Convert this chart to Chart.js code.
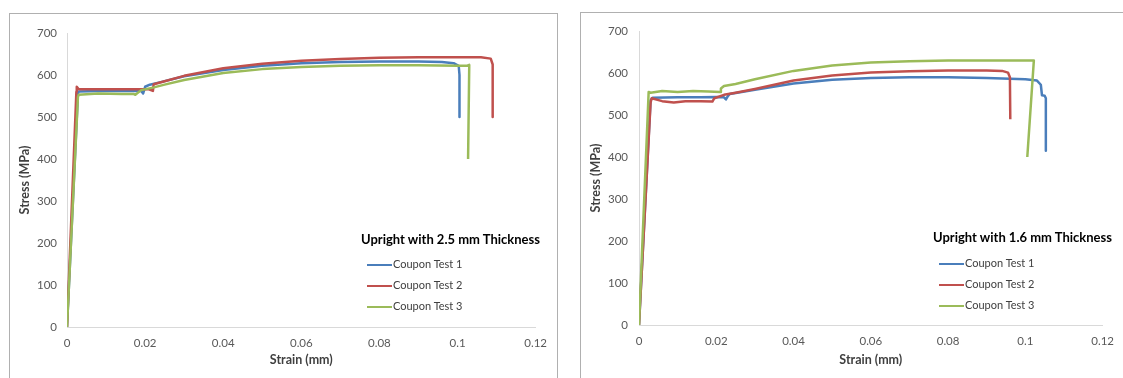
<!DOCTYPE html>
<html>
<head>
<meta charset="utf-8">
<script src="https://cdn.jsdelivr.net/npm/chart.js@4.4.1/dist/chart.umd.min.js"></script>
<style>
  body { margin: 0; background: #fff; width: 1123px; height: 378px; overflow: hidden; position: relative; font-family: Lato, "Liberation Sans", sans-serif; }
  .frame { position: absolute; border: 1px solid #b0b0b0; border-bottom: none; }
  #frame1 { left: 9px; top: 13px; width: 547px; height: 380px; }
  #frame2 { left: 580px; top: 12px; width: 560px; height: 380px; }
  canvas { position: absolute; }
  #chart1 { left: 10px; top: 14px; }
  #chart2 { left: 581px; top: 12px; }
  .legend { position: absolute; color: #404040; font-size: 11px; }
  .legend .ttl { font-weight: bold; color: #000; font-size: 13px; line-height: 16px; height: 16px; white-space: nowrap; }
  .legend .row { height: 21px; line-height: 21px; padding-left: 6px; white-space: nowrap; }
  .legend .sw { display: inline-block; width: 25px; height: 0; vertical-align: middle; margin-right: 1px; }
</style>
</head>
<body>
<div class="frame" id="frame1"></div>
<div class="frame" id="frame2"></div>
<canvas id="chart1" width="546" height="364"></canvas>
<canvas id="chart2" width="542" height="366"></canvas>
<div class="legend" id="legend1" style="left:361px; top:231px;"></div>
<div class="legend" id="legend2" style="left:933px; top:229px;"></div>
<script>
const seriesNames = ['Coupon Test 1', 'Coupon Test 2', 'Coupon Test 3'];
const seriesColors = ['#4a7ebb', '#c0504d', '#9bbb59'];
const xTickValues = [0, 0.02, 0.04, 0.06, 0.08, 0.1, 0.12];
const xTickLabels = ['0', '0.02', '0.04', '0.06', '0.08', '0.1', '0.12'];
const yTickValues = [0, 100, 200, 300, 400, 500, 600, 700];

// 2.5 mm thickness
const strain25t1 = [0, 0.0028, 0.003, 0.008, 0.015, 0.019, 0.0195, 0.020, 0.0212, 0.024, 0.03, 0.04, 0.05, 0.06, 0.07, 0.08, 0.09, 0.096, 0.099, 0.1003, 0.1005, 0.1005];
const stress25t1 = [0, 555, 561, 562, 562, 562, 556, 572, 577, 583, 597, 612, 622, 628, 631, 632, 632, 631, 628, 622, 600, 500];
const strain25t2 = [0, 0.0024, 0.0025, 0.003, 0.01, 0.018, 0.021, 0.022, 0.0222, 0.025, 0.03, 0.04, 0.05, 0.06, 0.07, 0.08, 0.09, 0.1, 0.106, 0.1085, 0.109, 0.109];
const stress25t2 = [0, 560, 572, 566, 566, 566, 566, 562, 578, 585, 598, 616, 627, 634, 638, 641, 642, 642, 642, 639, 625, 500];
const strain25t3 = [0, 0.0028, 0.003, 0.008, 0.014, 0.017, 0.0175, 0.019, 0.022, 0.025, 0.03, 0.04, 0.05, 0.06, 0.07, 0.08, 0.09, 0.1, 0.1025, 0.103, 0.1027];
const stress25t3 = [0, 548, 553, 556, 555, 555, 553, 564, 570, 577, 588, 605, 614, 619, 622, 623, 623, 622, 622, 624, 400];

// 1.6 mm thickness
const strain16t1 = [0, 0.003, 0.0035, 0.01, 0.016, 0.02, 0.022, 0.0225, 0.023, 0.0235, 0.03, 0.04, 0.05, 0.06, 0.07, 0.08, 0.09, 0.1, 0.103, 0.104, 0.1043, 0.105, 0.1053, 0.1053];
const stress16t1 = [0, 535, 541, 542, 542, 543, 542, 537, 545, 550, 560, 575, 584, 588, 590, 590, 588, 585, 582, 572, 547, 546, 540, 415];
const strain16t2 = [0, 0.003, 0.0033, 0.006, 0.009, 0.012, 0.016, 0.019, 0.0195, 0.022, 0.025, 0.03, 0.04, 0.05, 0.06, 0.07, 0.08, 0.09, 0.094, 0.0955, 0.096, 0.0961];
const stress16t2 = [0, 530, 540, 533, 530, 533, 533, 532, 540, 548, 553, 562, 582, 594, 601, 604, 606, 606, 605, 601, 590, 490];
const strain16t3 = [0, 0.0025, 0.003, 0.006, 0.01, 0.014, 0.018, 0.021, 0.0212, 0.022, 0.025, 0.03, 0.04, 0.05, 0.06, 0.07, 0.08, 0.09, 0.1, 0.1022, 0.1005];
const stress16t3 = [0, 555, 553, 557, 555, 557, 556, 555, 563, 569, 574, 585, 605, 618, 625, 628, 630, 630, 630, 630, 400];

const tickFont = { family: 'Lato, "Liberation Sans", sans-serif', size: 11.5 };
const titleFont = { family: 'Lato, "Liberation Sans", sans-serif', size: 12.5, weight: 'bold' };

function toPoints(xs, ys) {
    return xs.map((x, i) => ({ x: x, y: ys[i] }));
}

function makeChart(canvasId, legendId, legendTitle, series, geo) {
    const datasets = series.map((s, i) => ({
        label: seriesNames[i],
        data: toPoints(s[0], s[1]),
        showLine: true,
        borderColor: seriesColors[i],
        backgroundColor: seriesColors[i],
        borderWidth: 2.5,
        borderJoinStyle: 'round',
        pointRadius: 0,
        tension: 0,
        order: 3 - i
    }));

    const chart = new Chart(document.getElementById(canvasId), {
        type: 'scatter',
        data: { datasets: datasets },
        options: {
            responsive: false,
            animation: false,
            layout: { padding: { left: 0, top: 19, right: geo.right, bottom: 0 } },
            plugins: { legend: { display: false }, tooltip: { enabled: false } },
            scales: {
                x: {
                    type: 'linear',
                    min: 0,
                    max: 0.12,
                    afterFit: scale => { scale.height = geo.xHeight; },
                    afterBuildTicks: scale => { scale.ticks = xTickValues.map(v => ({ value: v })); },
                    ticks: { padding: 9, color: '#595959', font: tickFont, maxRotation: 0, callback: (v, i) => xTickLabels[i] },
                    grid: { display: false, drawTicks: false },
                    border: { display: true, color: '#d9d9d9', width: 1 },
                    title: { display: true, text: 'Strain (mm)', color: '#404040', font: titleFont, padding: { top: 0, bottom: 11 } }
                },
                y: {
                    type: 'linear',
                    min: 0,
                    max: 700,
                    afterFit: scale => { scale.width = geo.yWidth; },
                    afterBuildTicks: scale => { scale.ticks = yTickValues.map(v => ({ value: v })); },
                    ticks: { padding: geo.yPad, color: '#595959', font: tickFont },
                    grid: { display: false, drawTicks: false },
                    border: { display: true, color: '#d9d9d9', width: 1 },
                    title: { display: true, text: 'Stress (MPa)', color: '#404040', font: titleFont, padding: { top: 7, bottom: 0 } }
                }
            }
        }
    });

    const legend = document.getElementById(legendId);
    let html = '<div class="ttl">' + legendTitle + '</div><div style="height:' + geo.legendGap + 'px"></div>';
    chart.data.datasets.forEach(ds => {
        html += '<div class="row"><span class="sw" style="border-top:2.5px solid ' + ds.borderColor + '"></span>' + ds.label + '</div>';
    });
    legend.innerHTML = html;
}

document.addEventListener('DOMContentLoaded', () => {
    makeChart('chart1', 'legend1', 'Upright with 2.5 mm Thickness',
        [[strain25t1, stress25t1], [strain25t2, stress25t2], [strain25t3, stress25t3]],
        { right: 19, xHeight: 51, yWidth: 57, yPad: 10, legendGap: 6 });
    makeChart('chart2', 'legend2', 'Upright with 1.6 mm Thickness',
        [[strain16t1, stress16t1], [strain16t2, stress16t2], [strain16t3, stress16t3]],
        { right: 17, xHeight: 53, yWidth: 58, yPad: 11, legendGap: 7 });
});
</script>
</body>
</html>
